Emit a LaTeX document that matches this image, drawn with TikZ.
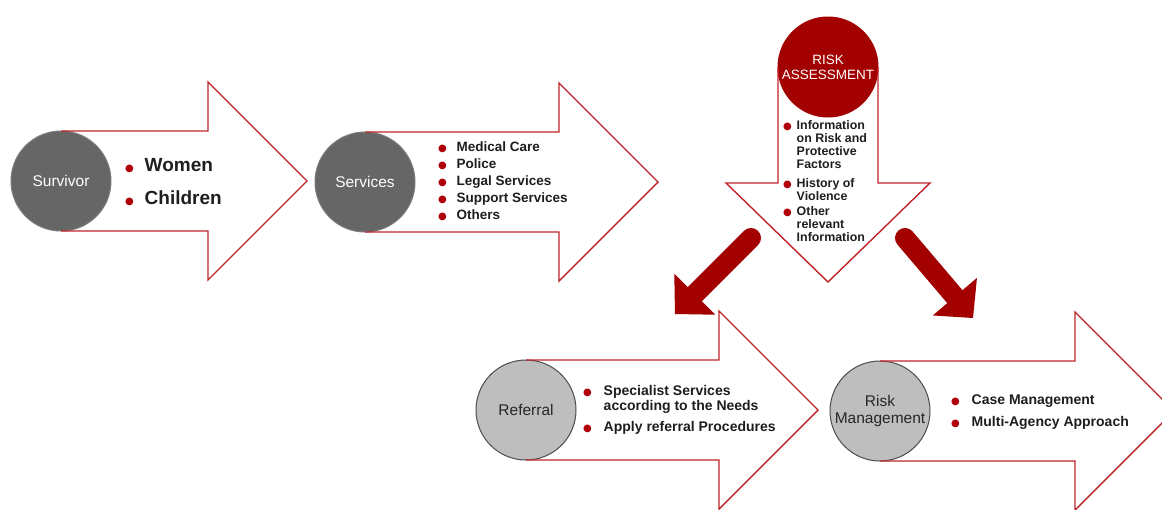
\documentclass[tikz,border=0pt]{standalone}
\usepackage{fontspec}
\setmainfont{Liberation Sans}
\newfontfamily\dotfont{DejaVu Sans}
\usetikzlibrary{arrows.meta,positioning}

\definecolor{darkred}{RGB}{163,0,0}
\definecolor{linered}{RGB}{190,35,40}
\definecolor{dotred}{RGB}{175,0,10}
\definecolor{darkcirc}{RGB}{102,102,102}
\definecolor{lightcirc}{RGB}{190,190,190}
\definecolor{listtext}{RGB}{30,30,30}

% red list bullet
\newcommand{\bul}{\textcolor{dotred}{\dotfont\fontsize{10}{10}\selectfont ●}}

\tikzset{
  darkstage/.style={circle, fill=darkcirc, draw=darkcirc!85!white, line width=1pt,
    minimum size=100pt, inner sep=0pt, outer sep=0pt, text=white, align=center,
    font=\fontsize{15.5}{17}\selectfont},
  lightstage/.style={darkstage, fill=lightcirc, draw=black!70, text=black!85},
  redstage/.style={darkstage, fill=darkred, draw=darkred, font=\fontsize{13.5}{15}\selectfont},
  blockarrow/.style={draw=linered, line width=1.4pt, line join=miter},
  itemlist/.style 2 args={inner sep=0pt, outer sep=0pt, text=listtext,
    font=\fontsize{#1}{#2}\selectfont\bfseries},
  bigarrow/.style={draw=darkred, line width=20pt, line cap=round,
    -{Triangle[length=28pt,width=58pt,line width=0pt]}},
}

\begin{document}
\begin{tikzpicture}[x=1pt,y=-1pt]
\clip (0,0) rectangle (1162,509);

% stages
\node[darkstage] (survivor) at (61,181) {Survivor};
\node[darkstage] (services) at (365,182) {Services};
\node[redstage] (assess) at (828,67) {RISK\\ASSESSMENT};
\node[lightstage] (referral) at (526,410) {Referral};
\node[lightstage] (riskmgmt) at (880,411) {Risk\\Management};

% block arrows behind the lists
\draw[blockarrow] (survivor.north) -- ++(147,0) -- ++(0,-49) -- ++(99,99)
  -- ++(-99,99) -- ++(0,-49) -- (survivor.south);
\draw[blockarrow] (services.north) -- ++(194,0) -- ++(0,-49) -- ++(99,99)
  -- ++(-99,99) -- ++(0,-49) -- (services.south);
\draw[blockarrow] (referral.north) -- ++(193,0) -- ++(0,-49) -- ++(99,99)
  -- ++(-99,99) -- ++(0,-49) -- (referral.south);
\draw[blockarrow] (riskmgmt.north) -- ++(195,0) -- ++(0,-49) -- ++(99,99)
  -- ++(-99,99) -- ++(0,-49) -- (riskmgmt.south);
\draw[blockarrow] (assess.west) -- ++(0,116) -- ++(-52,0) -- ++(102,99)
  -- ++(102,-99) -- ++(-52,0) -- (assess.east);

% lists
\node[itemlist={19}{33}, right=14pt of survivor] (survivorlist) {%
  \begin{tabular}{@{}c@{\hspace{11pt}}l@{}}
  \bul & Women\\
  \bul & Children
  \end{tabular}};
\node[itemlist={13.5}{17}, right=23pt of services] (serviceslist) {%
  \begin{tabular}{@{}c@{\hspace{10pt}}l@{}}
  \bul & Medical Care\\
  \bul & Police\\
  \bul & Legal Services\\
  \bul & Support Services\\
  \bul & Others
  \end{tabular}};
\node[itemlist={12.4}{12.8}, below right=4pt and -45pt of assess.south] (assesslist) {%
  \begin{tabular}{@{}c@{\hspace{5pt}}l@{}}
  \bul & Information\\
       & on Risk and\\
       & Protective\\
       & Factors\\[6pt]
  \bul & History of\\
       & Violence\\[3pt]
  \bul & Other\\
       & relevant\\
       & Information
  \end{tabular}};
\node[itemlist={14}{15}, right=7pt of referral] (referrallist) {%
  \begin{tabular}{@{}c@{\hspace{12pt}}l@{}}
  \bul & Specialist Services\\
       & according to the Needs\\[6pt]
  \bul & Apply referral Procedures
  \end{tabular}};
\node[itemlist={14}{22}, right=21pt of riskmgmt] (mgmtlist) {%
  \begin{tabular}{@{}c@{\hspace{12pt}}l@{}}
  \bul & Case Management\\
  \bul & Multi-Agency Approach
  \end{tabular}};

% assessment splits into referral and risk management
\coordinate (lefttail) at (751,238);
\coordinate (lefttip) at (675,314);
\coordinate (righttail) at (905,238);
\coordinate (righttip) at (973,318);
\draw[bigarrow] (lefttail) -- (lefttip);
\draw[bigarrow] (righttail) -- (righttip);
\end{tikzpicture}
\end{document}
